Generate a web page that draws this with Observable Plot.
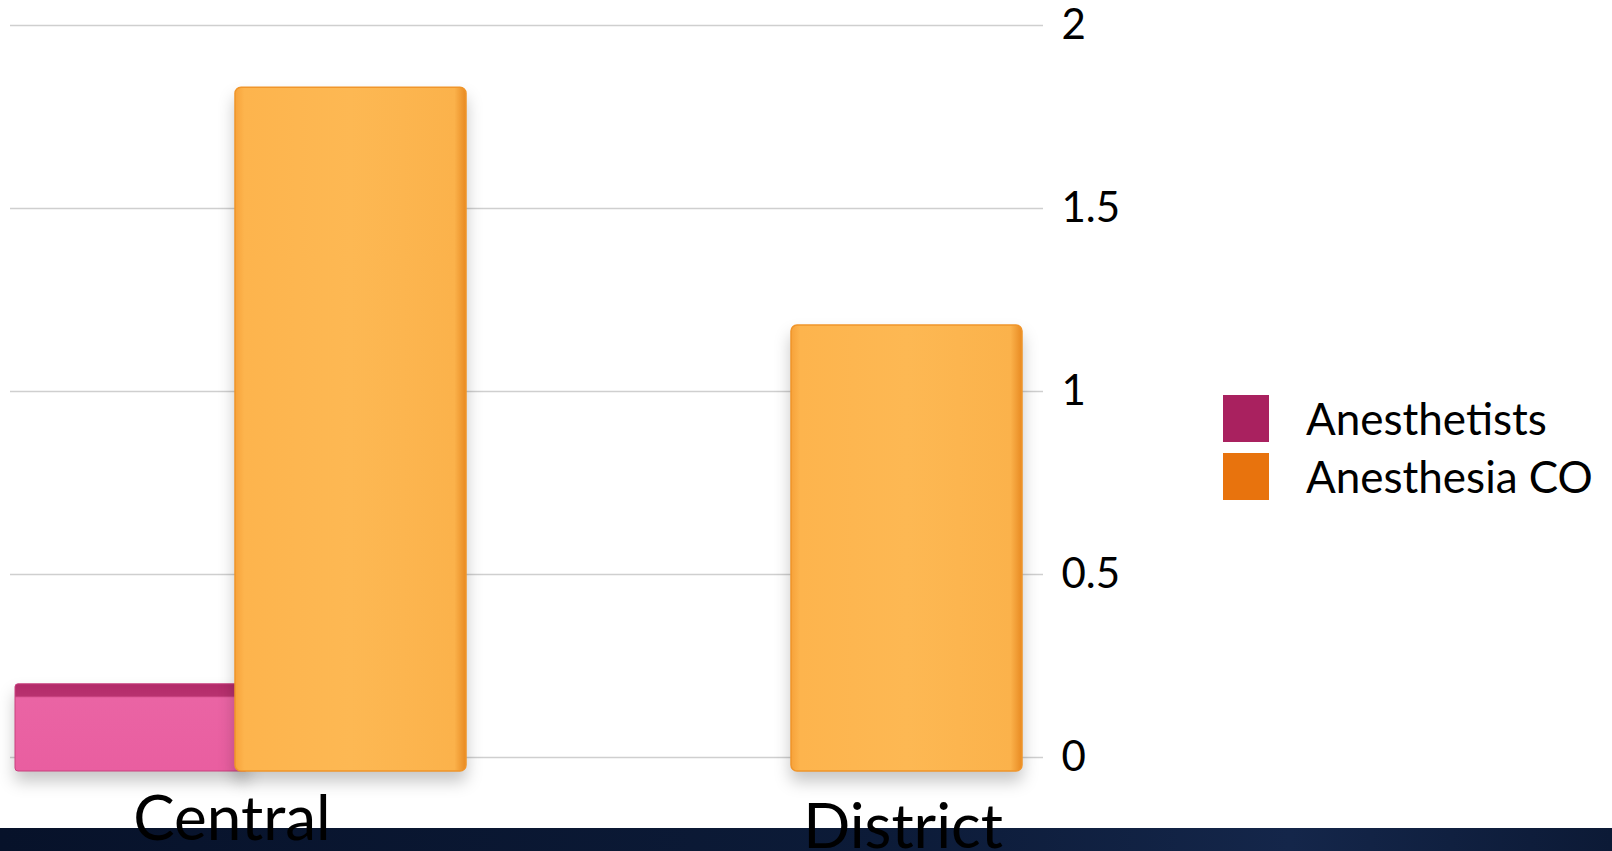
<!DOCTYPE html>
<html>
<head>
<meta charset="utf-8">
<script src="https://cdn.jsdelivr.net/npm/d3@7"></script>
<script src="https://cdn.jsdelivr.net/npm/@observablehq/plot@0.6"></script>
<style>
  html, body { margin: 0; padding: 0; background: #ffffff; }
  body { width: 1612px; height: 851px; position: relative; overflow: hidden; font-family: Lato, "Open Sans", sans-serif; }
  #band { position: absolute; left: 0; top: 828px; width: 1612px; height: 23px;
          background: linear-gradient(90deg, #07122a 0%, #0c1b38 55%, #14264a 80%, #0c1a36 100%); }
  #chart { position: absolute; left: 0; top: 0; }
  #legend { position: absolute; left: 1223px; top: 395px; }
  .row { display: flex; align-items: center; height: 47px; margin-bottom: 11px; }
  .sw { width: 46px; height: 47px; margin-right: 37px; }
  .lab { font-size: 44px; color: #000; line-height: 47px; }
</style>
</head>
<body>
<div id="band"></div>
<div id="chart"></div>
<div id="legend"></div>
<script>
const categories = ["Central", "District"];
const seriesNames = ["Anesthetists", "Anesthesia CO"];
const anesthetists = [0.2, 0];
const anesthesiaCO = [1.83, 1.18];
const yTicks = [0, 0.5, 1, 1.5, 2];
const yTickLabels = ["0", "0.5", "1", "1.5", "2"];
const barStroke = ["#c9407f", "#f0952a"];
const legendColors = ["#a9215f", "#e8730d"];

const rows = categories.flatMap((c, i) => [
  {category: c, series: seriesNames[0], value: anesthetists[i]},
  {category: c, series: seriesNames[1], value: anesthesiaCO[i]}
]);

const chart = Plot.plot({
  width: 1612,
  height: 851,
  marginLeft: 10,
  marginRight: 569,
  marginTop: 25,
  marginBottom: 94,
  style: {background: "transparent", fontFamily: "Lato, 'Open Sans', sans-serif", color: "#000"},
  x: {domain: categories, range: [14, 1023], paddingInner: 0.1885, paddingOuter: 0, axis: null},
  y: {domain: [0, 2]},
  marks: [
    Plot.gridY(yTicks, {stroke: "#cfcfcf", strokeOpacity: 1, strokeWidth: 1.5}),
    Plot.barY(rows.filter(d => d.series === seriesNames[0] && d.value > 0), {
      x: "category", y: "value", fill: "url(#pinkGrad)", stroke: barStroke[0], strokeWidth: 1,
      insetRight: 218, insetBottom: -14, rx: 3
    }),
    Plot.barY(rows.filter(d => d.series === seriesNames[1] && d.value > 0), {
      x: "category", y: "value", fill: "url(#orangeGrad)", stroke: barStroke[1], strokeWidth: 1.5,
      insetLeft: 220, insetBottom: -14, rx: 6
    }),
    Plot.axisY(yTicks, {
      anchor: "right", tickSize: 0, tickPadding: 18, fontSize: 42,
      tickFormat: d => yTickLabels[yTicks.indexOf(d)], label: null
    }),
    Plot.text([categories[0]], {
      x: d => d, frameAnchor: "bottom", lineAnchor: "bottom", dy: 82, dx: -9,
      fontSize: 62, fill: "#000"
    }),
    Plot.text([categories[1]], {
      x: d => d, frameAnchor: "bottom", lineAnchor: "bottom", dy: 90, dx: 106,
      fontSize: 62, fill: "#000"
    })
  ]
});

// gradients for the bar faces
const ns = "http://www.w3.org/2000/svg";
const defs = document.createElementNS(ns, "defs");
defs.innerHTML = `
  <linearGradient id="pinkGrad" x1="0" y1="0" x2="0" y2="1">
    <stop offset="0" stop-color="#b22a69"/>
    <stop offset="0.14" stop-color="#b8326f"/>
    <stop offset="0.16" stop-color="#ea64a4"/>
    <stop offset="1" stop-color="#e95ea0"/>
  </linearGradient>
  <linearGradient id="orangeGrad" x1="0" y1="0" x2="1" y2="0">
    <stop offset="0" stop-color="#f7a23a"/>
    <stop offset="0.04" stop-color="#fdb44d"/>
    <stop offset="0.5" stop-color="#fdb853"/>
    <stop offset="0.95" stop-color="#fbb24b"/>
    <stop offset="1" stop-color="#e88a22"/>
  </linearGradient>`;
chart.insertBefore(defs, chart.firstChild);
chart.querySelectorAll('g[aria-label="bar"]').forEach(g => {
  g.style.filter = "drop-shadow(0px 10px 8px rgba(0,0,0,0.22))";
});
document.getElementById("chart").appendChild(chart);

const legend = document.getElementById("legend");
seriesNames.forEach((name, i) => {
  const row = document.createElement("div");
  row.className = "row";
  const sw = document.createElement("div");
  sw.className = "sw";
  sw.style.background = legendColors[i];
  const lab = document.createElement("div");
  lab.className = "lab";
  lab.textContent = name;
  row.appendChild(sw);
  row.appendChild(lab);
  legend.appendChild(row);
});
</script>
</body>
</html>
